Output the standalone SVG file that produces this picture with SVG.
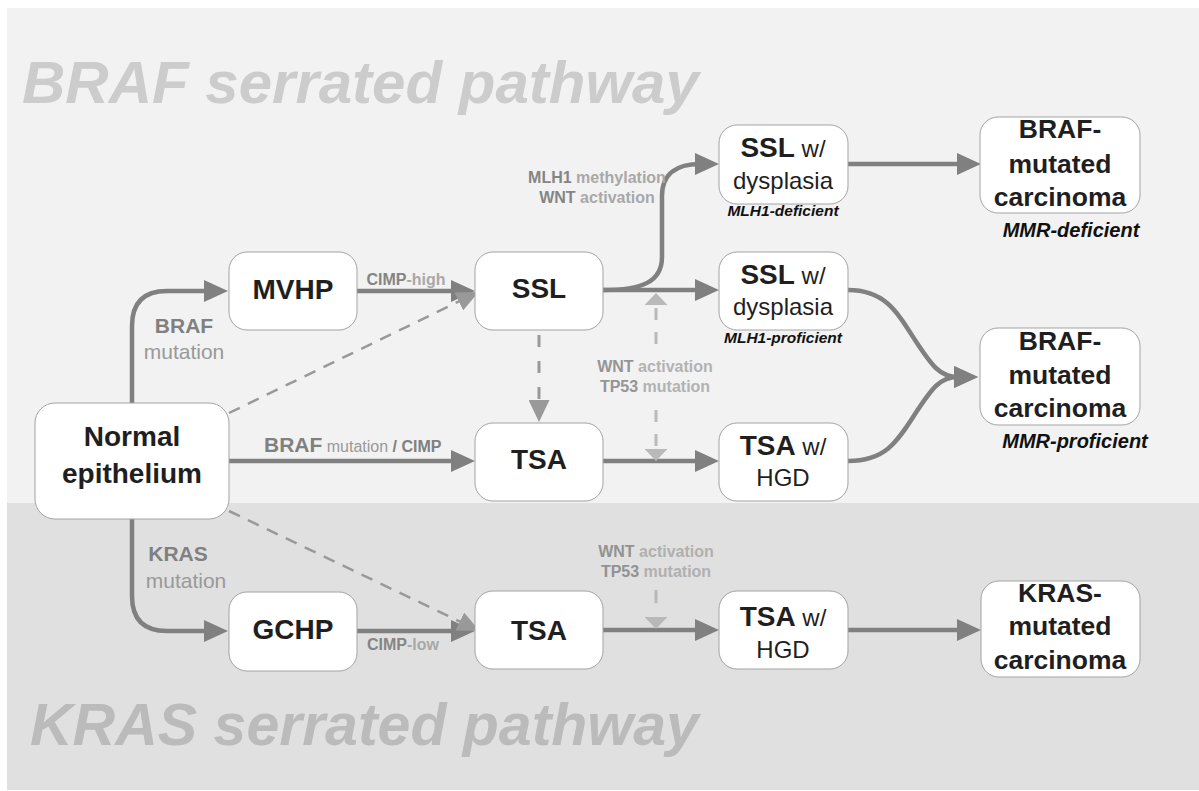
<svg xmlns="http://www.w3.org/2000/svg" width="1199" height="791" viewBox="0 0 1199 791">
<defs>
<style>
.node rect{fill:#ffffff;stroke:#a3a3a3;stroke-width:1}
.nt{font-family:"Liberation Sans",Arial,sans-serif;font-weight:bold;fill:#1f1f1f;text-anchor:middle}
.big{font-size:28px}
.car{font-size:26.5px}
.reg{font-weight:normal;font-size:24px}
.sub{font-family:"Liberation Sans",Arial,sans-serif;font-weight:bold;font-style:italic;fill:#111111;text-anchor:middle}
.lab{font-family:"Liberation Sans",Arial,sans-serif;font-weight:bold;font-size:16px;text-anchor:middle}
.s{fill:#858585}
.w{fill:#a8a8a8}
.title{font-family:"Liberation Sans",Arial,sans-serif;font-weight:bold;font-style:italic;font-size:60px}
.conn path.solid{fill:none;stroke:#808080;stroke-width:4.5;marker-end:url(#ah)}
.conn path.dash{fill:none;stroke:#999999;stroke-width:2.5;stroke-dasharray:12 9;marker-end:url(#ahd)}
</style>
<marker id="ah" viewBox="0 0 24 22" refX="18" refY="11" markerWidth="24" markerHeight="22" markerUnits="userSpaceOnUse" orient="auto">
<path d="M0,0 L24,11 L0,22 z" fill="#808080"/>
</marker>
<marker id="ahd" viewBox="0 0 22 20" refX="8" refY="10" markerWidth="22" markerHeight="20" markerUnits="userSpaceOnUse" orient="auto">
<path d="M0,0 L22,10 L0,20 z" fill="#999999"/>
</marker>
<marker id="ahv" viewBox="0 0 22 21" refX="0" refY="10.5" markerWidth="22" markerHeight="21" markerUnits="userSpaceOnUse" orient="auto">
<path d="M0,0 L22,10.5 L0,21 z" fill="#999999"/>
</marker>
<marker id="ahl" viewBox="0 0 12 23" refX="0" refY="11.5" markerWidth="12" markerHeight="23" markerUnits="userSpaceOnUse" orient="auto">
<path d="M0,0 L12,11.5 L0,23 z" fill="#b9b9b9"/>
</marker>
</defs>

<g id="background">
<rect x="7" y="8" width="1192" height="495" fill="#f2f2f2"/>
<rect x="7" y="503" width="1192" height="287" fill="#e0e0e0"/>
<text class="title" x="22" y="103" fill="#cccccc">BRAF serrated pathway</text>
<text class="title" x="30" y="745" fill="#bbbbbb" style="font-size:59px">KRAS serrated pathway</text>
</g>

<g id="connectors" class="conn">
<path class="solid" d="M132,403 L132,326 Q132,291 167,291 L222,291"/>
<path class="solid" d="M357,291 L469,291"/>
<path class="solid" d="M603,290 C642,290 662,282 662,257 L662,196 C662,173 678,164 700,164 L713,164"/>
<path class="solid" d="M603,290 L713,290"/>
<path class="solid" d="M229,461 L469,461"/>
<path class="solid" d="M603,461 L713,461"/>
<path class="solid" d="M848,164 L975,164"/>
<path class="solid" d="M848,290 C884,290 896,310 915,340 C932,366 940,377 958,377 L972,377"/>
<path class="solid" d="M848,461 C884,461 896,444 915,414 C932,388 940,377 958,377 L972,377"/>
<path class="solid" d="M132,519 L132,596 Q132,631 167,631 L222,631"/>
<path class="solid" d="M357,631 L469,631"/>
<path class="solid" d="M603,630 L713,630"/>
<path class="solid" d="M848,630 L975,630"/>
<path class="dash" d="M229,413 L466,298"/>
<path class="dash" d="M229,511 L467,625"/>
<path d="M539,335 L539,400" fill="none" stroke="#999999" stroke-width="3" stroke-dasharray="12 14" marker-end="url(#ahv)"/>
<path d="M656,344 L656,305" fill="none" stroke="#b9b9b9" stroke-width="3" stroke-dasharray="12 12" marker-end="url(#ahl)"/>
<path d="M656,410 L656,449" fill="none" stroke="#b9b9b9" stroke-width="3" stroke-dasharray="12 12" marker-end="url(#ahl)"/>
<path d="M656,590 L656,617" fill="none" stroke="#b9b9b9" stroke-width="3" stroke-dasharray="13 30" marker-end="url(#ahl)"/>
</g>

<g id="labels">
<text class="lab" x="597" y="183"><tspan class="s">MLH1</tspan><tspan class="w"> methylation</tspan></text>
<text class="lab" x="597" y="203"><tspan class="s">WNT</tspan><tspan class="w"> activation</tspan></text>
<text class="lab" x="406" y="285"><tspan class="s">CIMP</tspan><tspan class="w">-high</tspan></text>
<text class="lab" x="184" y="333" style="font-size:21px" fill="#808080">BRAF</text>
<text class="lab" x="184" y="359" style="font-size:21px;font-weight:normal" fill="#999999">mutation</text>
<text x="264" y="452" font-family="Liberation Sans, Arial, sans-serif" font-weight="bold"><tspan font-size="21" fill="#808080">BRAF</tspan><tspan font-size="16" font-weight="normal" fill="#999999"> mutation </tspan><tspan font-size="16" fill="#808080">/ CIMP</tspan></text>
<text class="lab" x="655" y="372" style="opacity:0.85"><tspan class="s">WNT</tspan><tspan class="w"> activation</tspan></text>
<text class="lab" x="655" y="392" style="opacity:0.85"><tspan class="s">TP53</tspan><tspan class="w"> mutation</tspan></text>
<text class="lab" x="178" y="561" style="font-size:21px" fill="#808080">KRAS</text>
<text class="lab" x="186" y="588" style="font-size:21px;font-weight:normal" fill="#999999">mutation</text>
<text class="lab" x="403" y="650"><tspan class="s">CIMP</tspan><tspan class="w">-low</tspan></text>
<text class="lab" x="656" y="557" style="opacity:0.85"><tspan class="s">WNT</tspan><tspan class="w"> activation</tspan></text>
<text class="lab" x="656" y="577" style="opacity:0.85"><tspan class="s">TP53</tspan><tspan class="w"> mutation</tspan></text>
</g>

<g id="normal" class="node">
<rect x="35" y="403" width="194" height="116" rx="20"/>
<text class="nt big" x="132" y="446">Normal</text>
<text class="nt big" x="132" y="483">epithelium</text>
</g>
<g id="mvhp" class="node">
<rect x="229" y="252" width="128" height="78" rx="18"/>
<text class="nt big" x="293" y="299">MVHP</text>
</g>
<g id="ssl" class="node">
<rect x="475" y="252" width="128" height="78" rx="18"/>
<text class="nt big" x="539" y="298">SSL</text>
</g>
<g id="tsa1" class="node">
<rect x="475" y="423" width="128" height="78" rx="18"/>
<text class="nt big" x="539" y="469">TSA</text>
</g>
<g id="ssl-dys-1" class="node">
<rect x="719" y="125" width="129" height="79" rx="18"/>
<text class="nt big" x="783" y="157">SSL<tspan class="reg"> w/</tspan></text>
<text class="nt reg" x="783" y="189">dysplasia</text>
<text class="sub" x="783" y="216" font-size="15.5">MLH1-deficient</text>
</g>
<g id="ssl-dys-2" class="node">
<rect x="719" y="252" width="129" height="78" rx="18"/>
<text class="nt big" x="783" y="284">SSL<tspan class="reg"> w/</tspan></text>
<text class="nt reg" x="783" y="315">dysplasia</text>
<text class="sub" x="783" y="343" font-size="15.5">MLH1-proficient</text>
</g>
<g id="tsa-hgd-1" class="node">
<rect x="719" y="423" width="129" height="78" rx="18"/>
<text class="nt big" x="783" y="455">TSA<tspan class="reg"> w/</tspan></text>
<text class="nt reg" x="783" y="486">HGD</text>
</g>
<g id="braf-carc-1" class="node">
<rect x="980" y="117" width="160" height="96" rx="18"/>
<text class="nt car" x="1060" y="138">BRAF-</text>
<text class="nt car" x="1060" y="173">mutated</text>
<text class="nt car" x="1060" y="206">carcinoma</text>
<text class="sub" x="1071" y="237" font-size="20">MMR-deficient</text>
</g>
<g id="braf-carc-2" class="node">
<rect x="980" y="328" width="160" height="97" rx="18"/>
<text class="nt car" x="1060" y="350">BRAF-</text>
<text class="nt car" x="1060" y="384">mutated</text>
<text class="nt car" x="1060" y="417">carcinoma</text>
<text class="sub" x="1075" y="448" font-size="20">MMR-proficient</text>
</g>
<g id="gchp" class="node">
<rect x="229" y="592" width="128" height="79" rx="18"/>
<text class="nt big" x="293" y="639">GCHP</text>
</g>
<g id="tsa2" class="node">
<rect x="475" y="591" width="128" height="78" rx="18"/>
<text class="nt big" x="539" y="640">TSA</text>
</g>
<g id="tsa-hgd-2" class="node">
<rect x="719" y="591" width="129" height="78" rx="18"/>
<text class="nt big" x="783" y="626">TSA<tspan class="reg"> w/</tspan></text>
<text class="nt reg" x="783" y="658">HGD</text>
</g>
<g id="kras-carc" class="node">
<rect x="981" y="581" width="159" height="96" rx="18"/>
<text class="nt car" x="1060" y="602">KRAS-</text>
<text class="nt car" x="1060" y="635">mutated</text>
<text class="nt car" x="1060" y="669">carcinoma</text>
</g>
</svg>
